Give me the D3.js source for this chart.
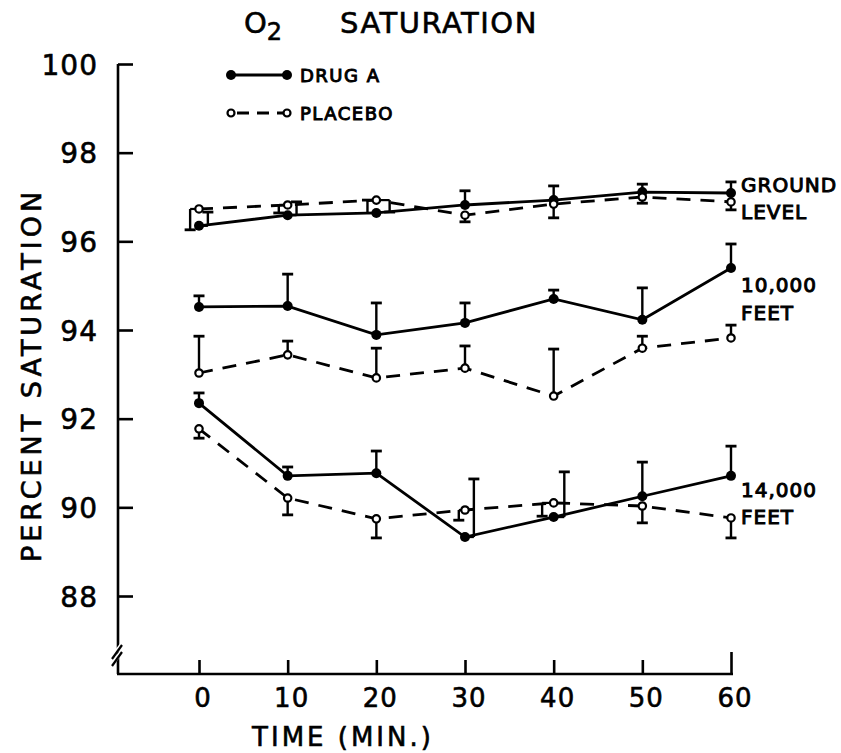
<!DOCTYPE html>
<html><head><meta charset="utf-8">
<script src="https://cdn.jsdelivr.net/npm/d3@7"></script>
<style>
html,body{margin:0;padding:0;background:#fff;}
text{font-family:"DejaVu Sans",sans-serif;fill:#000;stroke:#000;stroke-width:0.6px;}
</style></head>
<body>
<svg id="c" width="841" height="753"></svg>
<script>
// ---- data ----
const times = [0, 10, 20, 30, 40, 50, 60];
const yTicks = [88, 90, 92, 94, 96, 98, 100];
const xTicks = [0, 10, 20, 30, 40, 50, 60];

const groundDrug      = [96.35, 96.59, 96.64, 96.82, 96.93, 97.11, 97.09];
const groundDrugErr   = [96.66, 96.89, 96.93, 97.14, 97.25, 97.29, 97.34];
const groundDrugShift = [1, 1, -1, 0, 0, 0, 0];
const groundPlac      = [96.73, 96.82, 96.93, 96.59, 96.84, 97.00, 96.89];
const groundPlacErr   = [96.26, 96.64, 96.66, 96.44, 96.53, 96.86, 96.71];
const groundPlacShift = [-1, -1, 1.5, 0, 0, 0, 0];

const ft10Drug      = [94.52, 94.54, 93.89, 94.16, 94.70, 94.23, 95.40];
const ft10DrugErr   = [94.77, 95.26, 94.61, 94.61, 94.90, 94.95, 95.94];
const ft10Plac      = [93.03, 93.44, 92.92, 93.14, 92.51, 93.59, 93.82];
const ft10PlacErr   = [93.86, 93.75, 93.59, 93.64, 93.57, 93.86, 94.11];

const ft14Drug      = [92.35, 90.71, 90.77, 89.33, 89.78, 90.25, 90.71];
const ft14DrugErr   = [92.58, 90.91, 91.27, 90.64, 90.80, 91.02, 91.38];
const ft14DrugShift = [0, 0, 0, 1, 1.2, 0, 0];
const ft14Plac      = [91.77, 90.21, 89.74, 89.94, 90.10, 90.03, 89.76];
const ft14PlacErr   = [91.56, 89.83, 89.31, 89.71, 89.80, 89.65, 89.31];
const ft14PlacShift = [0, 0, 0, -0.7, -1.3, 0, 0];

const zeros = [0,0,0,0,0,0,0];
const series = [
  {v: groundDrug, e: groundDrugErr, s: groundDrugShift, filled: true},
  {v: groundPlac, e: groundPlacErr, s: groundPlacShift, filled: false},
  {v: ft10Drug, e: ft10DrugErr, s: zeros, filled: true},
  {v: ft10Plac, e: ft10PlacErr, s: zeros, filled: false},
  {v: ft14Drug, e: ft14DrugErr, s: ft14DrugShift, filled: true},
  {v: ft14Plac, e: ft14PlacErr, s: ft14PlacShift, filled: false}
];

// ---- drawing ----
const svg = d3.select("#c");
const x = d3.scaleLinear().domain([0, 60]).range([199, 731]);
const y = d3.scaleLinear().domain([88, 100]).range([596, 64]);
const axisX0 = 118, axisY = 674;

const sw = 2.6;
// y axis
svg.append("line").attr("x1", axisX0).attr("x2", axisX0).attr("y1", y(100)).attr("y2", axisY)
  .attr("stroke", "#000").attr("stroke-width", sw);
const yAxis = d3.axisRight(y).tickValues(yTicks).tickSize(15).tickFormat("");
const ga = svg.append("g").attr("transform", `translate(${axisX0},0)`).call(yAxis);
ga.select(".domain").remove();
ga.selectAll("line").attr("stroke", "#000").attr("stroke-width", sw);
yTicks.forEach(t => {
  svg.append("text").attr("x", 98).attr("y", y(t) + 1).attr("text-anchor", "end")
    .attr("dominant-baseline", "central").style("font-size", "28px").style("letter-spacing", "1px").text(t);
});
// break marks
[0, 7].forEach(o => {
  svg.append("line").attr("x1", axisX0 - 6).attr("y1", 664 - o).attr("x2", axisX0 + 5).attr("y2", 650 - o)
    .attr("stroke", "#fff").attr("stroke-width", 4);
});
[0, 7].forEach(o => {
  svg.append("line").attr("x1", axisX0 - 6).attr("y1", 666 - o).attr("x2", axisX0 + 4).attr("y2", 652 - o)
    .attr("stroke", "#000").attr("stroke-width", 2.2);
});

// x axis
svg.append("line").attr("x1", axisX0 - 1).attr("x2", x(60) + 2).attr("y1", axisY).attr("y2", axisY)
  .attr("stroke", "#000").attr("stroke-width", sw);
const xAxis = d3.axisTop(x).tickValues(xTicks).tickSize(14).tickFormat("");
const gx = svg.append("g").attr("transform", `translate(0,${axisY})`).call(xAxis);
gx.select(".domain").remove();
gx.selectAll("line").attr("stroke", "#000").attr("stroke-width", sw);
gx.selectAll(".tick").filter(d => d === 60).select("line").attr("y2", -22);
xTicks.forEach(t => {
  svg.append("text").attr("x", x(t) + 4).attr("y", axisY + 24).attr("text-anchor", "middle")
    .attr("dominant-baseline", "central").style("font-size", "26px").style("letter-spacing", "1px").text(t);
});

// axis titles
svg.append("text").attr("x", 343).attr("y", 737).attr("text-anchor", "middle")
  .attr("dominant-baseline", "central").style("font-size", "26px").style("letter-spacing", "3px")
  .text("TIME (MIN.)");
svg.append("text").attr("transform", "translate(31,375) rotate(-90)").attr("text-anchor", "middle")
  .attr("dominant-baseline", "central").style("font-size", "27px").style("letter-spacing", "4px")
  .text("PERCENT  SATURATION");
const title = svg.append("text").attr("x", 244).attr("y", 33).style("font-size", "29px");
title.append("tspan").text("O");
title.append("tspan").attr("dy", 7).style("font-size", "24px").text("2");
title.append("tspan").attr("x", 340).attr("dy", -7).style("letter-spacing", "1.5px").text("SATURATION");

// series
const line = d3.line().x((d, i) => x(times[i])).y(d => y(d));
series.forEach(sr => {
  sr.v.forEach((v, i) => {
    const xp = x(times[i]), xs = x(times[i] + sr.s[i]);
    if (sr.s[i] !== 0) {
      svg.append("line").attr("x1", xp).attr("x2", xs).attr("y1", y(v)).attr("y2", y(v))
        .attr("stroke", "#000").attr("stroke-width", 2.2);
    }
    svg.append("line").attr("x1", xs).attr("x2", xs).attr("y1", y(v)).attr("y2", y(sr.e[i]))
      .attr("stroke", "#000").attr("stroke-width", 2.4);
    svg.append("line").attr("x1", xs - 5.5).attr("x2", xs + 5.5).attr("y1", y(sr.e[i])).attr("y2", y(sr.e[i]))
      .attr("stroke", "#000").attr("stroke-width", 2.8);
  });
  svg.append("path").datum(sr.v).attr("d", line).attr("fill", "none").attr("stroke", "#000")
    .attr("stroke-width", 2.8).attr("stroke-dasharray", sr.filled ? null : "14,10");
  svg.selectAll(null).data(sr.v).enter().append("circle")
    .attr("cx", (d, i) => x(times[i])).attr("cy", d => y(d))
    .attr("r", sr.filled ? 5 : 3.7)
    .attr("fill", sr.filled ? "#000" : "#fff").attr("stroke", "#000").attr("stroke-width", sr.filled ? 0 : 2.2);
});

// right labels
const rl = [["GROUND", 185], ["LEVEL", 212], ["10,000", 285], ["FEET", 313], ["14,000", 490], ["FEET", 517]];
rl.forEach(([t, yy]) => {
  svg.append("text").attr("x", 741).attr("y", yy).attr("dominant-baseline", "central")
    .style("font-size", "20px").style("letter-spacing", "1px").style("stroke-width", "1px").text(t);
});

// legend
const legend = [["DRUG A", 75, true], ["PLACEBO", 113, false]];
legend.forEach(([t, yy, f]) => {
  svg.append("line").attr("x1", 231).attr("x2", 287).attr("y1", yy).attr("y2", yy)
    .attr("stroke", "#000").attr("stroke-width", 2.8).attr("stroke-dasharray", f ? null : "12,8")
    .attr("stroke-dashoffset", f ? 0 : -6);
  [231, 287].forEach(cx => svg.append("circle").attr("cx", cx).attr("cy", yy).attr("r", f ? 5 : 3.5)
    .attr("fill", f ? "#000" : "#fff").attr("stroke", "#000").attr("stroke-width", f ? 0 : 2.2));
  svg.append("text").attr("x", 300).attr("y", yy).attr("dominant-baseline", "central")
    .style("font-size", "18px").style("letter-spacing", "1.5px").style("stroke-width", "1px").text(t);
});
</script>
</body></html>
